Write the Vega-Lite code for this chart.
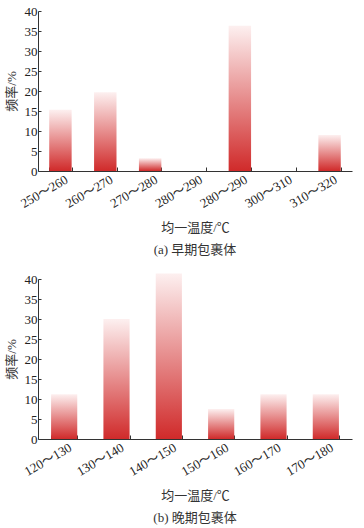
{
  "$schema": "https://vega.github.io/schema/vega-lite/v6.json",
  "background": "white",
  "padding": {"left": 5, "top": 5, "right": 9, "bottom": 5},
  "spacing": 15,
  "config": {
    "view": {"stroke": null},
    "font": "Liberation Serif, Noto Sans CJK SC",
    "axis": {
      "domainColor": "#333333",
      "tickColor": "#333333",
      "labelColor": "#222222",
      "titleColor": "#333333",
      "labelFont": "Liberation Serif, Noto Sans CJK SC",
      "titleFont": "Liberation Serif, Noto Sans CJK SC",
      "titleFontWeight": "normal",
      "labelFontSize": 13,
      "titleFontSize": 13,
      "grid": false
    },
    "title": {"font": "Liberation Serif, Noto Sans CJK SC", "fontSize": 13, "fontWeight": "normal", "color": "#333333", "orient": "bottom", "offset": 10}
  },
  "datasets": {
    "early": [
      {"range": "250～260", "freq": 15.3},
      {"range": "260～270", "freq": 19.7},
      {"range": "270～280", "freq": 3.2},
      {"range": "280～290 ", "freq": 0},
      {"range": "280～290", "freq": 36.3},
      {"range": "300～310", "freq": 0},
      {"range": "310～320", "freq": 9.0}
    ],
    "late": [
      {"range": "120～130", "freq": 11.2},
      {"range": "130～140", "freq": 30.0},
      {"range": "140～150", "freq": 41.4},
      {"range": "150～160", "freq": 7.5},
      {"range": "160～170", "freq": 11.2},
      {"range": "170～180", "freq": 11.2}
    ]
  },
  "vconcat": [
    {
      "width": 314,
      "height": 160,
      "title": {"text": "(a) 早期包裹体"},
      "data": {"name": "early"},
      "mark": {
        "type": "bar",
        "color": {"gradient": "linear", "x1": 0, "y1": 1, "x2": 0, "y2": 0,
          "stops": [{"offset": 0, "color": "#d02a2a"}, {"offset": 1, "color": "#fdf0f0"}]}
      },
      "encoding": {
        "x": {"field": "range", "type": "nominal", "sort": null,
          "scale": {"paddingInner": 0.5, "paddingOuter": 0.25},
          "axis": {"title": "均一温度/℃", "labelAngle": -30, "labelAlign": "right", "labelBaseline": "top", "tickBand": "extent", "tickSize": -4, "labelPadding": 6, "labelOffset": 3, "titlePadding": 11, "labelFontSize": 13}},
        "y": {"field": "freq", "type": "quantitative",
          "scale": {"domain": [0, 40]},
          "axis": {"title": "频率/%", "values": [0,5,10,15,20,25,30,35,40], "tickSize": -3, "labelPadding": 4, "titlePadding": 6}}
      }
    },
    {
      "width": 314,
      "height": 160,
      "title": {"text": "(b) 晚期包裹体"},
      "data": {"name": "late"},
      "mark": {
        "type": "bar",
        "color": {"gradient": "linear", "x1": 0, "y1": 1, "x2": 0, "y2": 0,
          "stops": [{"offset": 0, "color": "#d02a2a"}, {"offset": 1, "color": "#fdf0f0"}]}
      },
      "encoding": {
        "x": {"field": "range", "type": "nominal", "sort": null,
          "scale": {"paddingInner": 0.5, "paddingOuter": 0.25},
          "axis": {"title": "均一温度/℃", "labelAngle": -30, "labelAlign": "right", "labelBaseline": "top", "tickBand": "extent", "tickSize": -4, "labelPadding": 6, "labelOffset": 3, "titlePadding": 11, "labelFontSize": 13}},
        "y": {"field": "freq", "type": "quantitative",
          "scale": {"domain": [0, 40]},
          "axis": {"title": "频率/%", "values": [0,5,10,15,20,25,30,35,40], "tickSize": -3, "labelPadding": 4, "titlePadding": 6}}
      }
    }
  ]
}
